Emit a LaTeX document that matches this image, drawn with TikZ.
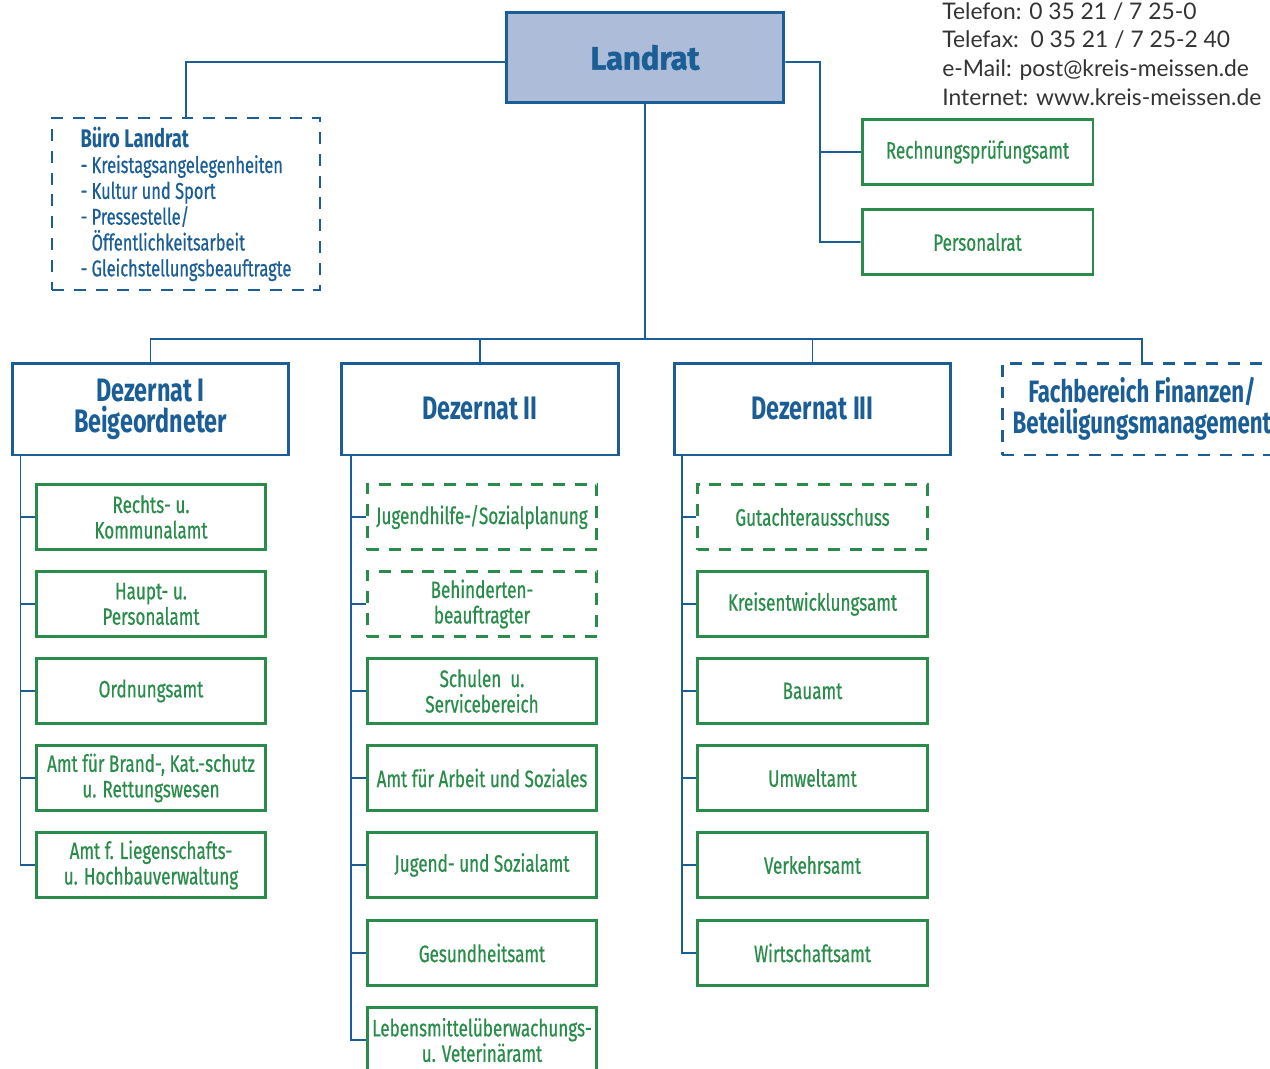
\documentclass[tikz,border=0pt]{standalone}
\usepackage{fontspec}
\setmainfont{Fira Sans}[FakeStretch=0.72, UprightFeatures={FakeBold=0.6}]
\newfontfamily\kopffont{Fira Sans}[FakeStretch=0.95, BoldFeatures={FakeBold=1.5}]
\newfontfamily\kontaktfont{Lato}[FakeStretch=1.0]
\usepackage{tikz}

\definecolor{lkblau}{HTML}{1B5E95}
\definecolor{lkgruen}{HTML}{2A8C4A}
\definecolor{lkfill}{HTML}{ADBDD9}
\definecolor{lkgrau}{HTML}{333333}

\tikzset{
  linie/.style={draw=lkblau, line width=1.1pt},
  gestrichelt/.style={dash pattern=on 6.8pt off 5.6pt},
  amt/.style={draw=lkgruen, line width=1.7pt, text=lkgruen, align=center,
    minimum width=4.6cm, minimum height=1.3cm, inner sep=1pt,
    font=\fontsize{13.5}{14.5}\selectfont},
  amtfrei/.style={amt, gestrichelt},
  dezbox/.style={draw=lkblau, line width=1.7pt, text=lkblau, align=center,
    minimum width=5.54cm, minimum height=1.84cm, inner sep=1pt,
    font=\bfseries\fontsize{18.5}{17.6}\selectfont},
}

\begin{document}
\begin{tikzpicture}[x=0.02cm, y=-0.02cm]
  \useasboundingbox (0,0) rectangle (1270,1068);
  \clip (0,0) rectangle (1270,1068);

  % Spitze
  \node[draw=lkblau, line width=1.7pt, fill=lkfill, text=lkblau,
    minimum width=5.56cm, minimum height=1.82cm,
    font=\kopffont\bfseries\fontsize{18.5}{18}\selectfont] (landrat) at (645,57.5) {Landrat};

  \node[anchor=north west, inner sep=0pt, align=left, text=lkgrau,
    font=\kontaktfont\fontsize{13}{16.4}\selectfont] (kontakt) at (942,2)
    {Telefon: 0 35 21 / 7 25-0\\Telefax:\ \ 0 35 21 / 7 25-2 40\\e-Mail: post@kreis-meissen.de\\Internet: www.kreis-meissen.de};

  \node[draw=lkblau, line width=1.1pt, gestrichelt, text=lkblau, align=left,
    minimum width=5.36cm, minimum height=3.44cm, inner sep=1pt,
    font=\fontsize{13}{14.7}\selectfont] (buero) at (186,204)
    {\textbf{\fontsize{14.5}{14.7}\selectfont Büro Landrat}\\- Kreistagsangelegenheiten\\- Kultur und Sport\\- Pressestelle/\\\phantom{- }Öffentlichkeitsarbeit\\- Gleichstellungsbeauftragte};

  \node[amt, minimum width=4.62cm] (rpa) at (977.5,152) {Rechnungsprüfungsamt};
  \node[amt, minimum width=4.62cm] (prat) at (977.5,242) {Personalrat};

  % Dezernate
  \node[dezbox] (dez1) at (150.5,409) {Dezernat I\\Beigeordneter};
  \node[dezbox] (dez2) at (480,409) {Dezernat II};
  \node[dezbox] (dez3) at (812.5,409) {Dezernat III};
  \node[dezbox, gestrichelt, minimum width=5.6cm,
    font=\bfseries\fontsize{17.6}{17.6}\selectfont] (fin) at (1142,409) {Fachbereich Finanzen/\\Beteiligungsmanagement};

  % Dezernat I
  \node[amt] (d1a) at (151,517) {Rechts- u.\\Kommunalamt};
  \node[amt] (d1b) at (151,604) {Haupt- u.\\Personalamt};
  \node[amt] (d1c) at (151,691) {Ordnungsamt};
  \node[amt] (d1d) at (151,778) {Amt für Brand-, Kat.-schutz\\u. Rettungswesen};
  \node[amt] (d1e) at (151,865) {Amt f. Liegenschafts-\\u. Hochbauverwaltung};

  % Dezernat II
  \node[amtfrei] (d2a) at (482,517) {Jugendhilfe-/Sozialplanung};
  \node[amtfrei] (d2b) at (482,604) {Behinderten-\\beauftragter};
  \node[amt] (d2c) at (482,691) {Schulen\ \ u.\\Servicebereich};
  \node[amt] (d2d) at (482,778) {Amt für Arbeit und Soziales};
  \node[amt] (d2e) at (482,865) {Jugend- und Sozialamt};
  \node[amt] (d2f) at (482,953) {Gesundheitsamt};
  \node[amt] (d2g) at (482,1040) {Lebensmittelüberwachungs-\\u. Veterinäramt};

  % Dezernat III
  \node[amtfrei] (d3a) at (812.5,517) {Gutachterausschuss};
  \node[amt] (d3b) at (812.5,604) {Kreisentwicklungsamt};
  \node[amt] (d3c) at (812.5,691) {Bauamt};
  \node[amt] (d3d) at (812.5,778) {Umweltamt};
  \node[amt] (d3e) at (812.5,865) {Verkehrsamt};
  \node[amt] (d3f) at (812.5,953) {Wirtschaftsamt};

  % Verbindungen
  \coordinate (rk) at (820,62);
  \coordinate (bar) at (645,339);
  \draw[linie] ([yshift=-0.09cm]landrat.west) -| (buero.north);
  \draw[linie] ([yshift=-0.09cm]landrat.east) -- (rk) |- (prat.west);
  \draw[linie] (rpa.west) -| (rk);
  \draw[linie] (landrat.south) -- (bar);
  \draw[linie] (dez1.north) |- (bar) -| (fin.north);
  \draw[linie] (dez2.north) -- (dez2.north |- bar);
  \draw[linie] (dez3.north) -- (dez3.north |- bar);

  \foreach \k in {a,...,e}
    \draw[linie] (d1\k.west) -| ([xshift=0.2cm]dez1.south west);
  \foreach \k in {a,...,g}
    \draw[linie] (d2\k.west) -| ([xshift=0.22cm]dez2.south west);
  \foreach \k in {a,...,f}
    \draw[linie] (d3\k.west) -| ([xshift=0.18cm]dez3.south west);
\end{tikzpicture}
\end{document}
